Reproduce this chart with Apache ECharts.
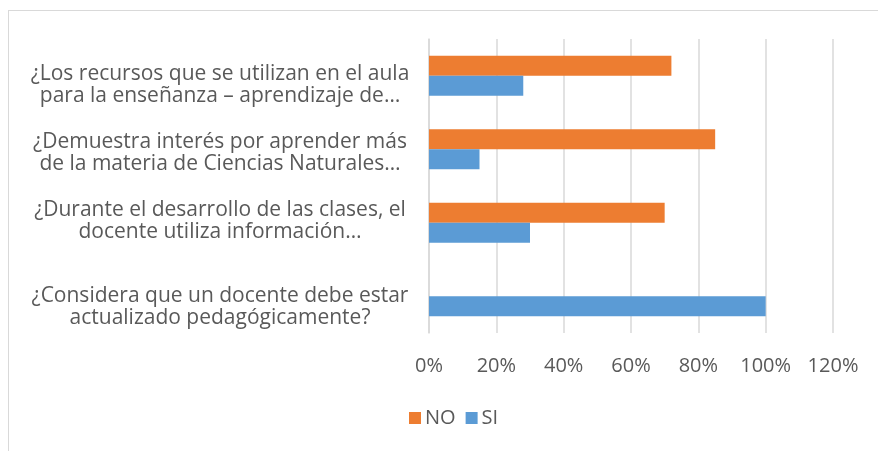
<!DOCTYPE html>
<html>
<head>
<meta charset="utf-8">
<script src="https://cdn.jsdelivr.net/npm/echarts@6/dist/echarts.min.js"></script>
<style>
  html, body { margin: 0; padding: 0; background: #ffffff; }
  #chart { width: 878px; height: 451px; }
</style>
</head>
<body>
<div id="chart"></div>
<script>
// Survey questions (top to bottom)
const categories = [
  "¿Los recursos que se utilizan en el aula\npara la enseñanza – aprendizaje de…",
  "¿Demuestra interés por aprender más\nde la materia de Ciencias Naturales…",
  "¿Durante el desarrollo de las clases, el\ndocente utiliza información…",
  "¿Considera que un docente debe estar\nactualizado pedagógicamente?"
];
// Answer shares in percent
const noValues = [72, 85, 70, 0];
const siValues = [28, 15, 30, 100];
const seriesNames = ["NO", "SI"];
const xTicks = [0, 20, 40, 60, 80, 100, 120];

// vertical nudge of each question label (px, positive = down)
const labelShift = [9, 4, -2, 11];

const textColor = "#595959";
const gridColor = "#d9d9d9";
const fontFamily = "'Open Sans', 'Noto Sans', sans-serif";

// Each label gets an empty spacer line above (or below) it, sized to move the block
const rich = { t: { fontSize: 21, lineHeight: 22, color: textColor, align: "center" } };
labelShift.forEach((s, i) => {
  rich["g" + i] = { fontSize: 1, lineHeight: Math.abs(2 * s), align: "center" };
});

function formatLabel(value, index) {
  const s = labelShift[index];
  const body = value.split("\n").map(l => "{t|" + l + "}").join("\n");
  if (s > 0) return "{g" + index + "| }\n" + body;
  if (s < 0) return body + "\n{g" + index + "| }";
  return body;
}

const chart = echarts.init(document.getElementById("chart"), null, { renderer: "canvas" });
chart.setOption({
  backgroundColor: "#ffffff",
  animation: false,
  textStyle: { fontFamily: fontFamily },
  graphic: [
    { type: "line", shape: { x1: 8, y1: 10.5, x2: 878, y2: 10.5 }, style: { stroke: gridColor, lineWidth: 1 } },
    { type: "line", shape: { x1: 8.5, y1: 10, x2: 8.5, y2: 451 }, style: { stroke: gridColor, lineWidth: 1 } }
  ],
  grid: { left: 429, right: 45, top: 39, bottom: 118, containLabel: false, outerBoundsMode: "none" },
  legend: {
    data: seriesNames,
    left: 404,
    top: 403,
    itemWidth: 12,
    itemHeight: 12,
    itemGap: 10,
    icon: "rect",
    textStyle: { color: textColor, fontSize: 20, fontFamily: fontFamily, padding: [0, 0, 0, -1] }
  },
  xAxis: {
    type: "value",
    min: xTicks[0],
    max: xTicks[xTicks.length - 1],
    interval: xTicks[1] - xTicks[0],
    axisLine: { show: false },
    axisTick: { show: false },
    splitLine: { show: true, lineStyle: { color: gridColor, width: 1.5 } },
    axisLabel: {
      color: textColor,
      fontSize: 20,
      margin: 23,
      formatter: v => v + "%"
    }
  },
  yAxis: {
    type: "category",
    inverse: true,
    data: categories,
    axisLine: { show: true, lineStyle: { color: gridColor, width: 1.5 } },
    axisTick: { show: false },
    axisLabel: {
      color: textColor,
      fontSize: 21,
      lineHeight: 22,
      align: "center",
      margin: 209,
      formatter: formatLabel,
      rich: rich
    }
  },
  series: [
    {
      name: seriesNames[0],
      type: "bar",
      data: noValues,
      barWidth: 20,
      barGap: "0%",
      itemStyle: { color: "#ED7D31" }
    },
    {
      name: seriesNames[1],
      type: "bar",
      data: siValues,
      barWidth: 20,
      barGap: "0%",
      itemStyle: { color: "#5B9BD5" }
    }
  ]
});
</script>
</body>
</html>
